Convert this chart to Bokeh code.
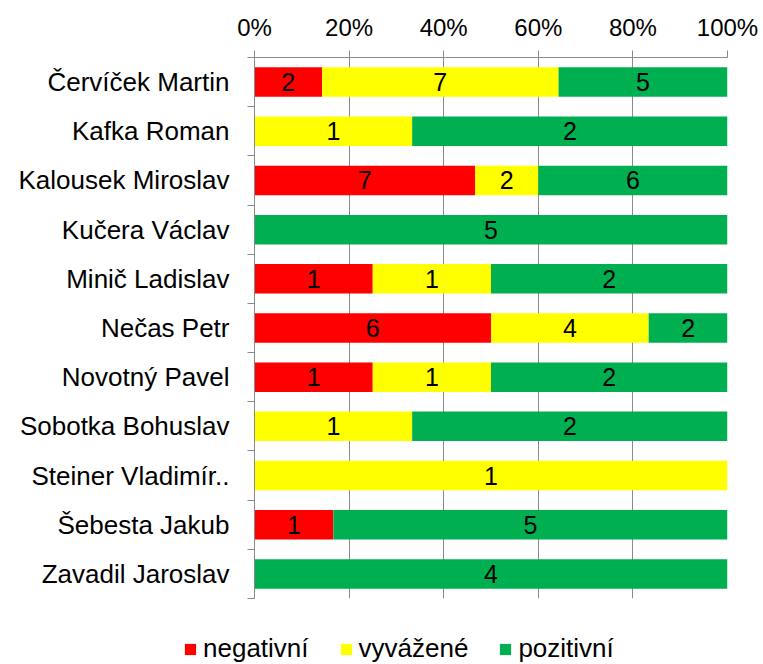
from bokeh.plotting import figure
from bokeh.layouts import column
from bokeh.models import (Range1d, FixedTicker, CustomJSTickFormatter, NumeralTickFormatter,
                          ColumnDataSource, Legend, LegendItem)
from bokeh.embed import file_html
from bokeh.resources import INLINE
from bokeh.core.properties import value

categories = ["Červíček Martin", "Kafka Roman", "Kalousek Miroslav", "Kučera Václav",
              "Minič Ladislav", "Nečas Petr", "Novotný Pavel", "Sobotka Bohuslav",
              "Steiner Vladimír..", "Šebesta Jakub", "Zavadil Jaroslav"]
negativni = [2, 0, 7, 0, 1, 6, 1, 0, 0, 1, 0]
vyvazene = [7, 1, 2, 0, 1, 4, 1, 1, 1, 0, 0]
pozitivni = [5, 2, 6, 5, 2, 2, 2, 2, 0, 5, 4]
series_names = ["negativní", "vyvážené", "pozitivní"]
colors = ["#FF0000", "#FFFF00", "#00B050"]
x_ticks = [0, 0.2, 0.4, 0.6, 0.8, 1.0]

FONT = "Liberation Sans"
GRAY = "#8a8a8a"

n = len(categories)
ypos = [i + 0.5 for i in range(n)]
series = [negativni, vyvazene, pozitivni]
totals = [sum(s[i] for s in series) for i in range(n)]

p = figure(width=763, height=600, x_range=Range1d(0, 1), y_range=Range1d(n, 0),
           output_backend="svg", toolbar_location=None,
           x_axis_location="above", y_axis_location="left",
           min_border_left=254, min_border_right=36, min_border_top=57, min_border_bottom=2,
           outline_line_color=None, frame_align=False)

xt = FixedTicker(ticks=x_ticks)
p.xaxis.ticker = xt
p.xgrid.ticker = xt
p.xaxis.formatter = NumeralTickFormatter(format="0%")
p.xaxis.axis_line_color = GRAY
p.xaxis.major_tick_line_color = GRAY
p.xaxis.major_tick_out = 7
p.xaxis.major_tick_in = 0
p.xaxis.minor_tick_line_color = None
p.xaxis.major_label_text_font = FONT
p.xaxis.major_label_text_font_size = "24px"
p.xaxis.major_label_text_color = "black"
p.xaxis.major_label_standoff = 10
p.xgrid.grid_line_color = GRAY
p.xgrid.grid_line_width = 1
p.ygrid.grid_line_color = None

p.yaxis.ticker = FixedTicker(ticks=ypos, minor_ticks=list(range(n + 1)))
p.yaxis.formatter = CustomJSTickFormatter(args=dict(names=categories),
                                          code="return names[Math.floor(tick)] || '';")
p.yaxis.axis_line_color = GRAY
p.yaxis.major_tick_line_color = None
p.yaxis.major_tick_out = 0
p.yaxis.major_tick_in = 0
p.yaxis.minor_tick_line_color = GRAY
p.yaxis.minor_tick_out = 7
p.yaxis.minor_tick_in = 0
p.yaxis.major_label_text_font = FONT
p.yaxis.major_label_text_font_size = "26px"
p.yaxis.major_label_text_color = "black"
p.yaxis.major_label_standoff = 18

# legend strip below the chart (its own frame spans the full width)
lg = figure(width=763, height=64, x_range=Range1d(0, 1), y_range=Range1d(-2, -1),
            output_backend="svg", toolbar_location=None,
            x_axis_location=None, y_axis_location=None,
            min_border_left=0, min_border_right=0, min_border_top=0, min_border_bottom=0,
            outline_line_color=None, frame_align=False)
lg.grid.visible = False

label_x, label_y, label_t = [], [], []
items = []
cum = [0.0] * n
for s, col, nm in zip(series, colors, series_names):
    left = [cum[i] / totals[i] for i in range(n)]
    right = [(cum[i] + s[i]) / totals[i] for i in range(n)]
    src = ColumnDataSource(dict(y=ypos, left=left, right=right))
    p.hbar(y="y", left="left", right="right", height=0.6, source=src,
           fill_color=col, line_color=None)
    r = lg.hbar(y="y", left="left", right="right", height=0.6, source=src,
                fill_color=col, line_color=None, visible=False)
    items.append(LegendItem(label=nm, renderers=[r]))
    for i in range(n):
        if s[i] > 0:
            label_x.append((left[i] + right[i]) / 2)
            label_y.append(ypos[i])
            label_t.append(str(s[i]))
    cum = [cum[i] + s[i] for i in range(n)]

p.text(x=label_x, y=label_y, text=label_t, text_align="center", text_baseline="middle",
       text_font=value(FONT), text_font_size="25px", text_color="black")

legend = Legend(items=items, location=(183, 0), orientation="horizontal",
                glyph_width=14, glyph_height=14, label_standoff=6, spacing=30,
                padding=0, margin=0, border_line_color=None, background_fill_alpha=0,
                inactive_fill_alpha=0,
                label_text_font=FONT, label_text_font_size="26px", label_text_color="black")
lg.add_layout(legend, "center")

layout = column(p, lg, spacing=0)
open("out.html", "w").write(file_html(layout, INLINE))
